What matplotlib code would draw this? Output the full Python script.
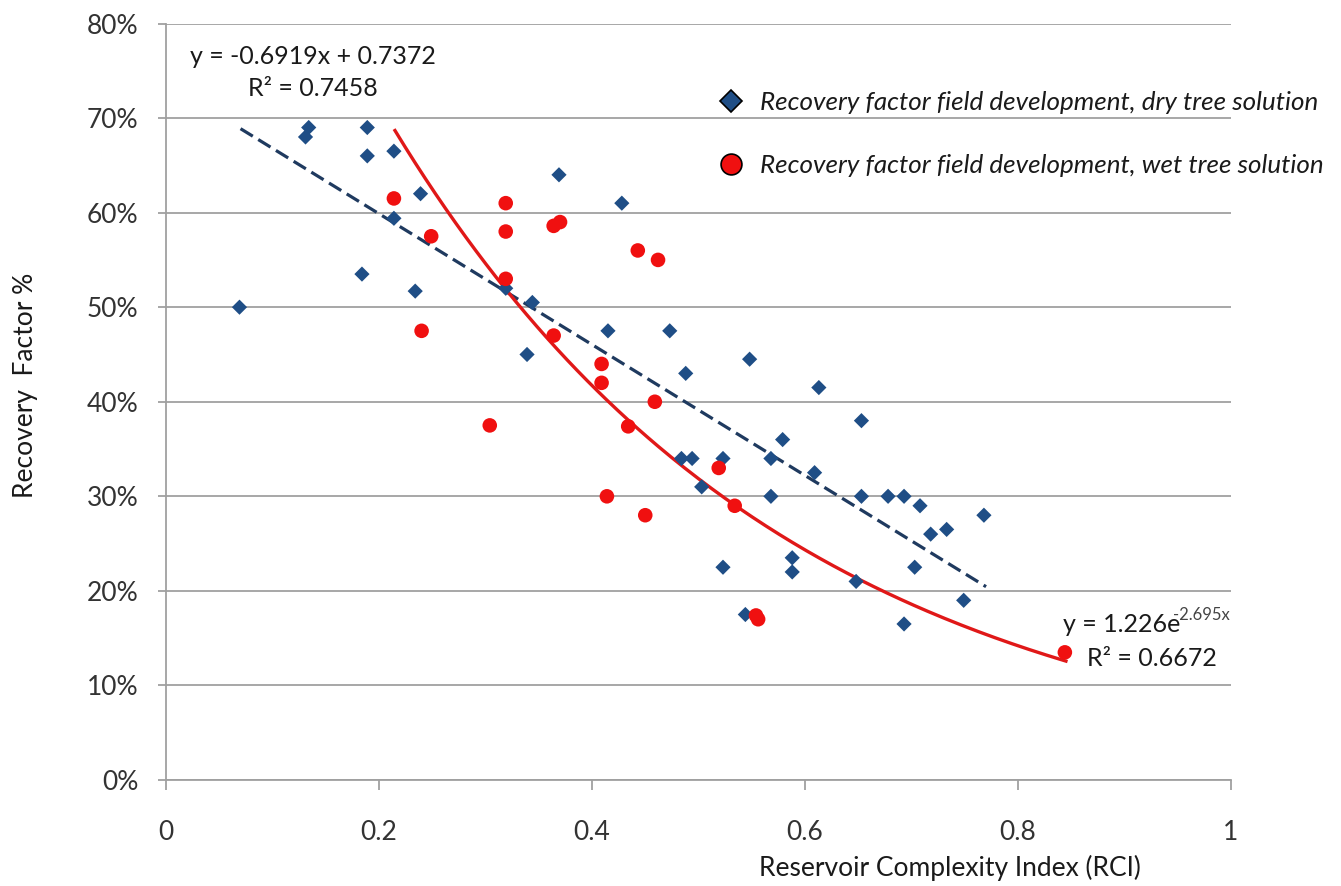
import numpy as np
import matplotlib
matplotlib.use("Agg")
import matplotlib.pyplot as plt
from matplotlib.lines import Line2D

plt.rcParams['font.family'] = ['Lato', 'DejaVu Sans']

# Dry tree solution (blue diamonds)
dry_x = [0.134, 0.131, 0.189, 0.189, 0.214, 0.239, 0.214, 0.369, 0.184, 0.234,
         0.069, 0.319, 0.344, 0.339, 0.415, 0.428, 0.473, 0.488, 0.548, 0.613,
         0.484, 0.494, 0.523, 0.579, 0.568, 0.609, 0.503, 0.568, 0.523, 0.588,
         0.588, 0.544, 0.653, 0.653, 0.678, 0.693, 0.708, 0.768, 0.733, 0.718,
         0.703, 0.648, 0.749, 0.693]
dry_y = [0.690, 0.680, 0.690, 0.660, 0.665, 0.620, 0.594, 0.640, 0.535, 0.517,
         0.500, 0.520, 0.505, 0.450, 0.475, 0.610, 0.475, 0.430, 0.445, 0.415,
         0.340, 0.340, 0.340, 0.360, 0.340, 0.325, 0.310, 0.300, 0.225, 0.235,
         0.220, 0.175, 0.380, 0.300, 0.300, 0.300, 0.290, 0.280, 0.265, 0.260,
         0.225, 0.210, 0.190, 0.165]

# Wet tree solution (red circles)
wet_x = [0.214, 0.249, 0.319, 0.319, 0.364, 0.370, 0.319, 0.240, 0.364, 0.304,
         0.409, 0.409, 0.459, 0.434, 0.519, 0.534, 0.414, 0.450, 0.554, 0.556,
         0.443, 0.462, 0.844]
wet_y = [0.615, 0.575, 0.610, 0.580, 0.586, 0.590, 0.530, 0.475, 0.470, 0.375,
         0.440, 0.420, 0.400, 0.374, 0.330, 0.290, 0.300, 0.280, 0.174, 0.170,
         0.560, 0.550, 0.135]

# Trend line coefficients (from the chart)
lin_slope, lin_icpt = -0.6919, 0.7372
lin_range = (0.07, 0.77)
exp_a, exp_b = 1.226, -2.695
exp_range = (0.215, 0.845)

x_ticks = [0, 0.2, 0.4, 0.6, 0.8, 1]
x_tick_labels = ['0', '0.2', '0.4', '0.6', '0.8', '1']
y_ticks = [0, 0.1, 0.2, 0.3, 0.4, 0.5, 0.6, 0.7, 0.8]
y_tick_labels = ['0%', '10%', '20%', '30%', '40%', '50%', '60%', '70%', '80%']

blue = '#1F4E86'
red = '#F01010'
grid_col = '#A0A0A0'
text_col = '#1a1a1a'
tick_col = '#333333'

fig = plt.figure(figsize=(13.41, 8.86), dpi=100)
W, H = 1341, 886
ax = fig.add_axes([166 / W, 1 - 780 / H, (1231 - 166) / W, (780 - 23.5) / H])

ax.set_xlim(0, 1)
ax.set_ylim(0, 0.8)
ax.set_xticks(x_ticks)
ax.set_xticklabels(x_tick_labels)
ax.set_yticks(y_ticks)
ax.set_yticklabels(y_tick_labels)

ax.grid(axis='y', color=grid_col, linewidth=1.3)
ax.set_axisbelow(True)
for s in ['top', 'right']:
    ax.spines[s].set_visible(False)
for s in ['left', 'bottom']:
    ax.spines[s].set_color(grid_col)
    ax.spines[s].set_linewidth(1.3)
ax.tick_params(axis='x', direction='out', length=7, width=1.3, color=grid_col,
               pad=22, labelsize=19, labelcolor=tick_col)
ax.tick_params(axis='y', direction='out', length=6, width=1.3, color=grid_col,
               pad=14, labelsize=19, labelcolor=tick_col)

# Trend lines
xl = np.linspace(*lin_range, 50)
ax.plot(xl, lin_slope * xl + lin_icpt, color='#1F3A5F', linestyle=(0, (4.5, 2)),
        linewidth=2.3, zorder=3)
xe = np.linspace(*exp_range, 200)
ax.plot(xe, exp_a * np.exp(exp_b * xe), color='#E01818', linewidth=2.4, zorder=3)

# Points
ax.scatter(dry_x, dry_y, marker='D', s=60, color=blue, edgecolors='none', zorder=4)
ax.scatter(wet_x, wet_y, marker='o', s=110, color=red, edgecolors='none', zorder=4)

# Axis labels
fig.text(25 / W, 1 - 385 / H, 'Recovery  Factor %', rotation=90, ha='center',
         va='center', fontsize=19, color=text_col)
fig.text(950 / W, 1 - 868 / H, 'Reservoir Complexity Index (RCI)', ha='center',
         va='center', fontsize=19, color=text_col)

# Equations
fig.text(313 / W, 1 - 56 / H, 'y = -0.6919x + 0.7372', ha='center', va='center',
         fontsize=18, color=text_col)
fig.text(313 / W, 1 - 89 / H, 'R\u00b2 = 0.7458', ha='center', va='center',
         fontsize=18, color=text_col)
fig.text(1063 / W, 1 - 624 / H, 'y = 1.226e', ha='left',
         va='center', fontsize=18, color=text_col)
fig.text(1173 / W, 1 - 615 / H, '-2.695x', ha='left',
         va='center', fontsize=12, color='#444444')
fig.text(1087 / W, 1 - 658 / H, 'R\u00b2 = 0.6672', ha='left', va='center',
         fontsize=18, color=text_col)

# Legend
handles = [
    Line2D([], [], linestyle='none', marker='D', markersize=11,
           markerfacecolor=blue, markeredgecolor='black', markeredgewidth=1.2),
    Line2D([], [], linestyle='none', marker='o', markersize=15,
           markerfacecolor=red, markeredgecolor='black', markeredgewidth=1.2),
]
labels = ['Recovery factor field development, dry tree solution',
          'Recovery factor field development, wet tree solution']
leg = fig.legend(handles, labels, loc='upper left',
                 bbox_to_anchor=(715 / W, 1 - 91 / H), frameon=False,
                 prop={'style': 'italic', 'size': 18.7}, labelspacing=1.55,
                 handlelength=1.2, handletextpad=0.55, borderpad=0,
                 borderaxespad=0)
for t in leg.get_texts():
    t.set_color(text_col)

fig.savefig('out.png', dpi=100)
